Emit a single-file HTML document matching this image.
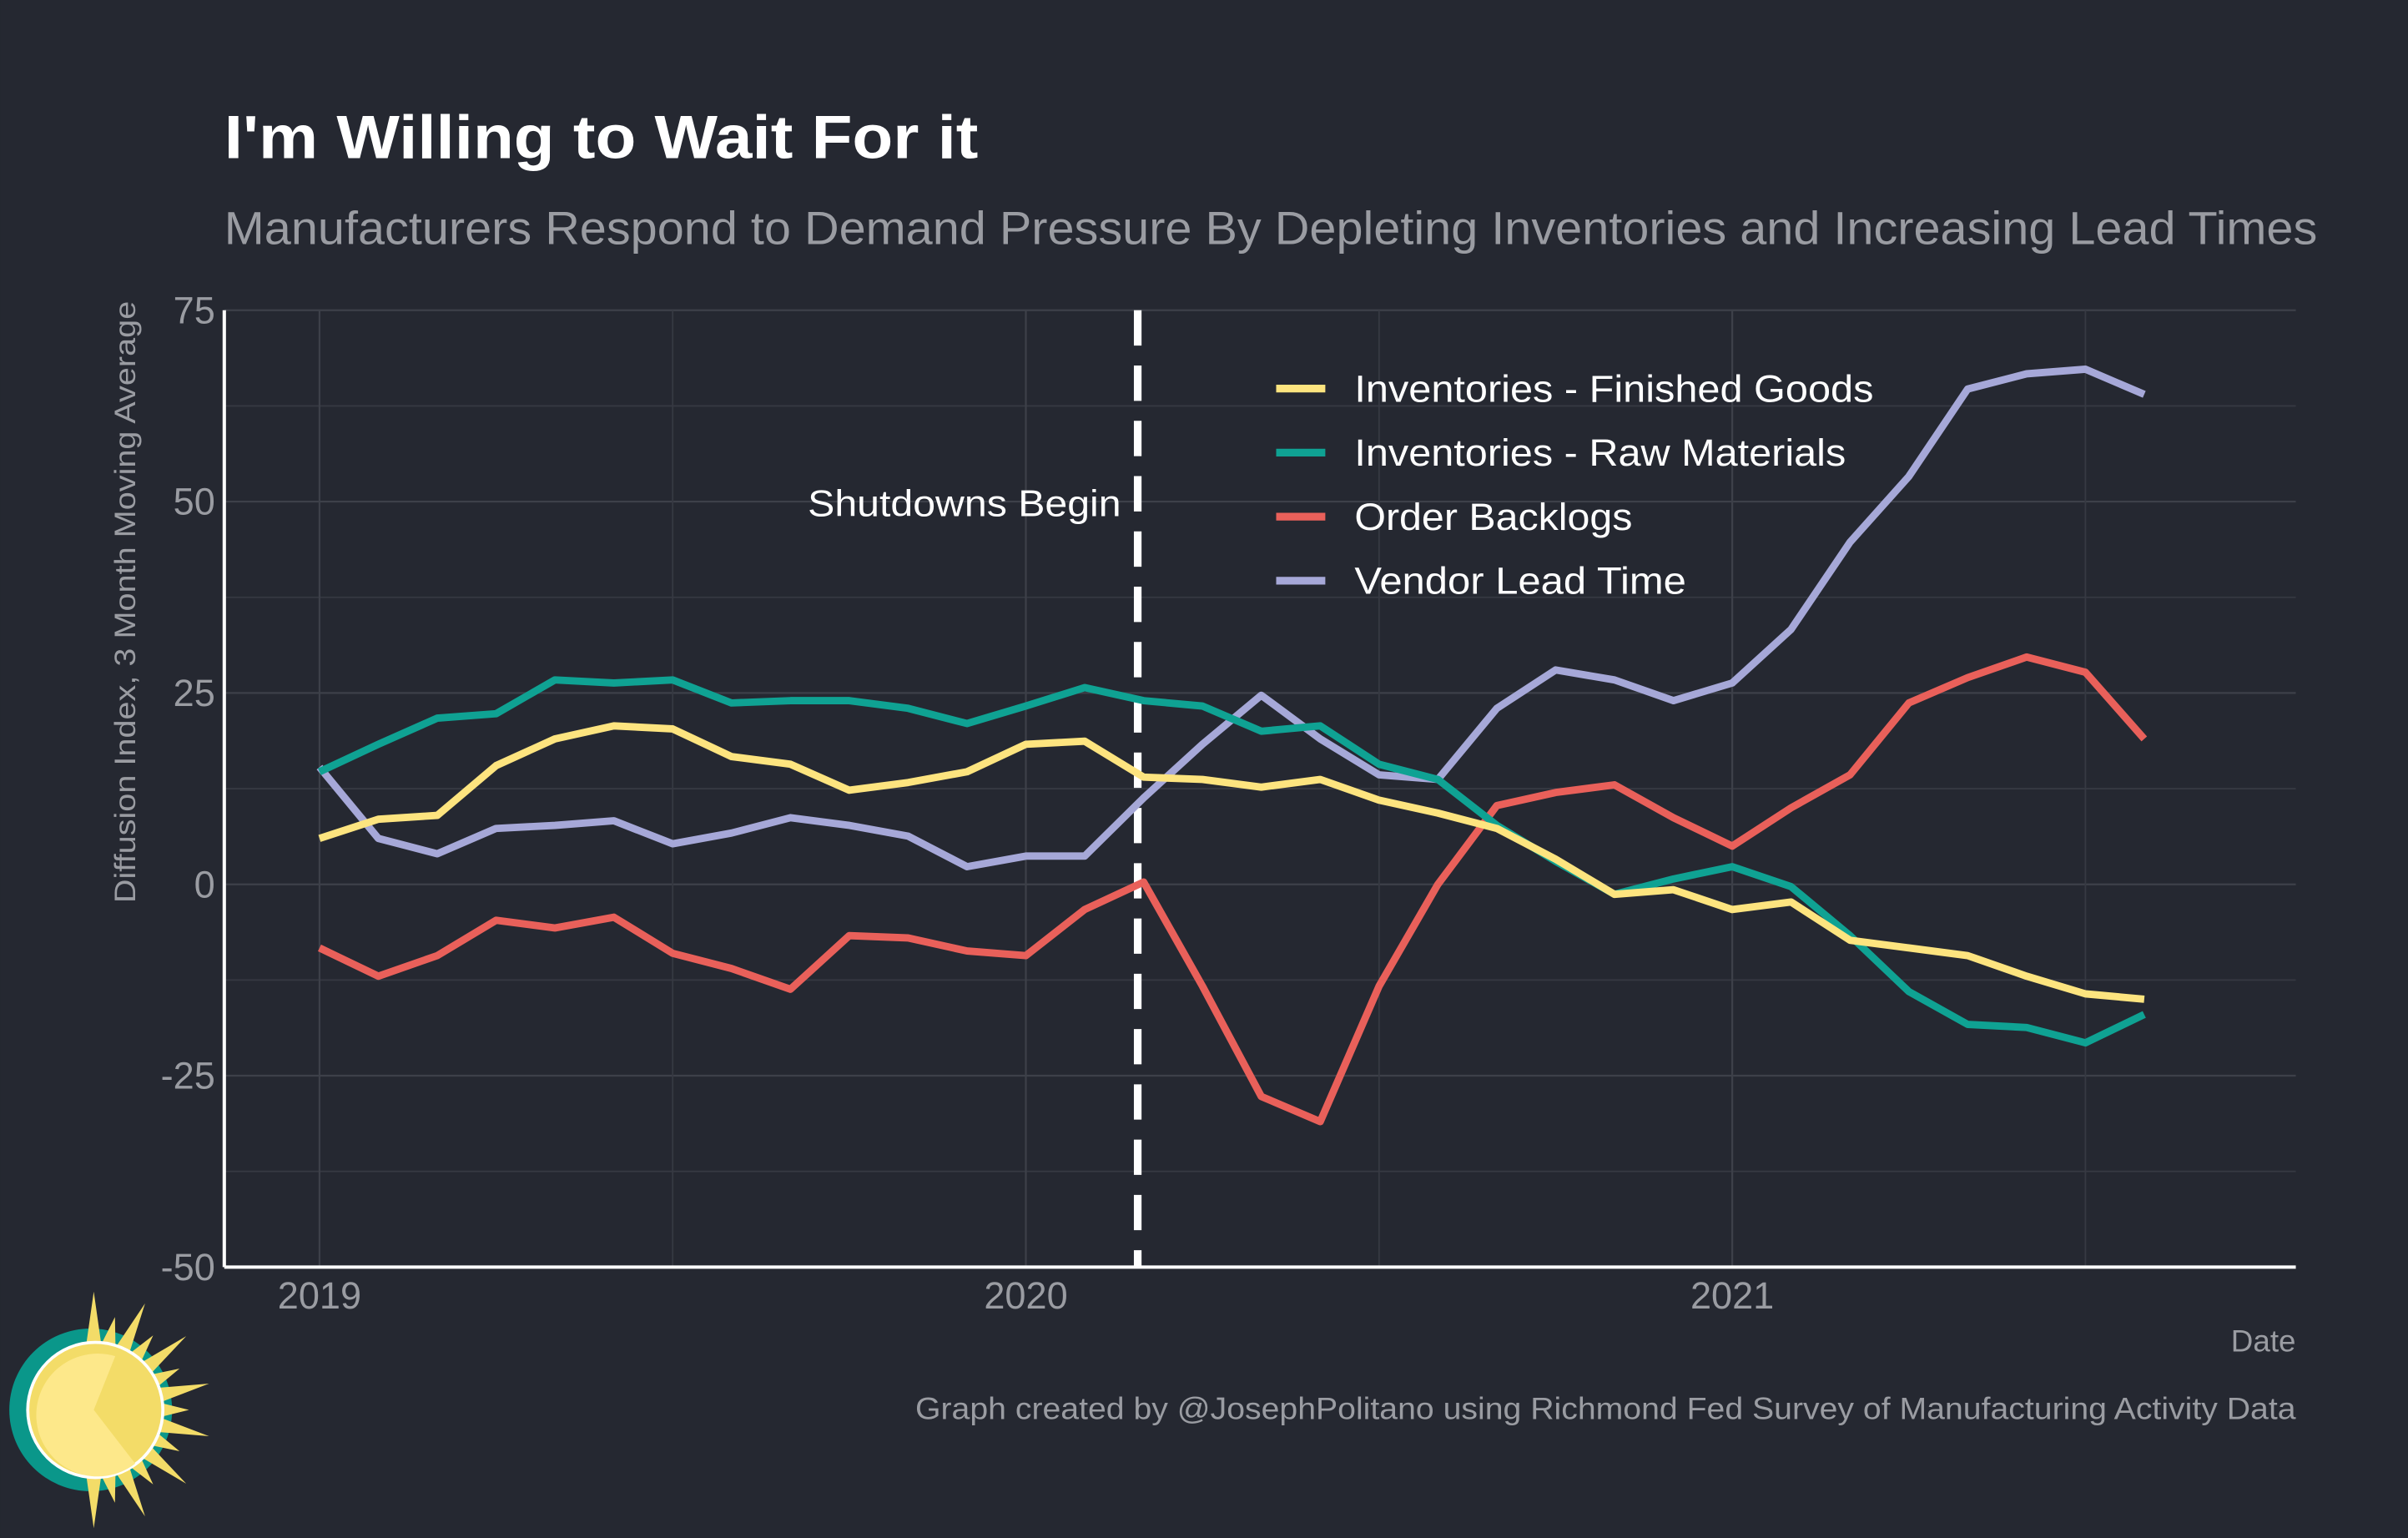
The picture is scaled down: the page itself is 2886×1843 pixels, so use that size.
<!DOCTYPE html>
<html><head><meta charset="utf-8"><style>
html,body{margin:0;padding:0;background:#252831;}
svg{display:block;}
text{font-family:"Liberation Sans",Arial,sans-serif;}
</style></head><body>
<svg id="chart" width="2886" height="1843" viewBox="0 0 1568 1001.4" xmlns="http://www.w3.org/2000/svg">
<rect x="0" y="0" width="1568" height="1002" fill="#252831"/>
<text x="146" y="103" font-size="40" font-weight="bold" fill="#ffffff" textLength="491" lengthAdjust="spacingAndGlyphs">I'm Willing to Wait For it</text>
<text x="146" y="159" font-size="30" fill="#9a9ca2" textLength="1363" lengthAdjust="spacingAndGlyphs">Manufacturers Respond to Demand Pressure By Depleting Inventories and Increasing Lead Times</text>
<g id="grid"></g>
<g id="axes"></g>
<g id="series"></g>
<g id="legend"></g>
<text transform="translate(88,392) rotate(-90)" text-anchor="middle" font-size="19" fill="#9a9ca2" textLength="392" lengthAdjust="spacingAndGlyphs">Diffusion Index, 3 Month Moving Average</text>
<text x="1495" y="880" text-anchor="end" font-size="20" fill="#9a9ca2">Date</text>
<text x="596" y="924" font-size="20" fill="#9a9ca2" textLength="899" lengthAdjust="spacingAndGlyphs">Graph created by @JosephPolitano using Richmond Fed Survey of Manufacturing Activity Data</text>
<g id="logo"></g>
</svg>
<script>
const categories = ["2019-01","2019-02","2019-03","2019-04","2019-05","2019-06","2019-07","2019-08","2019-09","2019-10","2019-11","2019-12","2020-01","2020-02","2020-03","2020-04","2020-05","2020-06","2020-07","2020-08","2020-09","2020-10","2020-11","2020-12","2021-01","2021-02","2021-03","2021-04","2021-05","2021-06","2021-07","2021-08"];
const finishedGoods = [6,8.5,9,15.5,19,20.7,20.3,16.7,15.7,12.3,13.3,14.7,18.3,18.7,14,13.7,12.7,13.7,11,9.3,7.3,3.3,-1.3,-0.7,-3.3,-2.3,-7.3,-8.3,-9.3,-12,-14.3,-15];
const rawMaterials = [14.7,18.3,21.7,22.3,26.7,26.3,26.7,23.7,24,24,23,21,23.3,25.7,24,23.3,20,20.7,15.7,13.7,7.7,3,-1.3,0.7,2.3,-0.3,-6.7,-14,-18.3,-18.7,-20.7,-17];
const orderBacklogs = [-8.3,-12,-9.3,-4.7,-5.7,-4.3,-9,-11,-13.7,-6.7,-7,-8.7,-9.3,-3.3,0.3,-13.3,-27.7,-31,-13.3,0,10.3,12,13,8.7,5,10,14.3,23.7,27,29.7,27.7,19];
const vendorLeadTime = [15.3,6,4,7.3,7.7,8.3,5.3,6.7,8.7,7.7,6.3,2.3,3.7,3.7,11.3,18.3,24.7,19,14.3,13.7,23,28,26.7,24,26.3,33.3,44.7,53.3,64.7,66.7,67.3,64];
const yTicks = [-50,-25,0,25,50,75];
const xTickLabels = ["2019","2020","2021"];
const seriesNames = ["Inventories - Finished Goods","Inventories - Raw Materials","Order Backlogs","Vendor Lead Time"];
const shutdownDate = "2020-03";

const NS="http://www.w3.org/2000/svg";
const L=146,R=1495,T=202,B=825;
function monthIndex(s){const [y,m]=s.split("-").map(Number);return (y-2019)*12+(m-1);}
function xScale(i){return 208+i*(1128-208)/24;}
function yScale(v){return B-(v+50)/125*(B-T);}
function el(tag,attrs,parent){const e=document.createElementNS(NS,tag);for(const k in attrs)e.setAttribute(k,attrs[k]);parent.appendChild(e);return e;}
const grid=document.getElementById("grid"),axes=document.getElementById("axes"),series=document.getElementById("series"),legend=document.getElementById("legend");
for(let i=0;i<yTicks.length-1;i++){const v=(yTicks[i]+yTicks[i+1])/2;
const g=el("line",{x1:L,x2:R,y1:yScale(v),y2:yScale(v),stroke:"#363942","stroke-width":1},grid);

}
for(const v of yTicks){
const g=el("line",{x1:L,x2:R,y1:yScale(v),y2:yScale(v),stroke:"#3d4049","stroke-width":1.2},grid);


const t=el("text",{x:L-6,y:yScale(v)+8.5,"text-anchor":"end","font-size":24.5,fill:"#9a9ca2"},axes);t.textContent=v;

}
for(let k=0;k<6;k++){const i=k*6;const x=xScale(i);
const g=el("line",{x1:x,x2:x,y1:T,y2:B,stroke:k%2==0?"#3d4049":"#363942","stroke-width":k%2==0?1.2:1},grid);

}
xTickLabels.forEach((lab,k)=>{const t=el("text",{x:xScale(k*12),y:852,"text-anchor":"middle","font-size":24.5,fill:"#9a9ca2"},axes);t.textContent=lab;

});
const ya=el("line",{x1:L,x2:L,y1:T,y2:B,stroke:"#ffffff","stroke-width":2.2},axes);


const xa=el("line",{x1:L,x2:R,y1:B,y2:B,stroke:"#ffffff","stroke-width":2.2},axes);


const colors=["#fde47f","#0fa293","#e9605a","#a6a8d8"];
const data=[finishedGoods,rawMaterials,orderBacklogs,vendorLeadTime];
const names=["line-finished-goods","line-raw-materials","line-order-backlogs","line-vendor-lead-time"];
const legendLens=[338,320,181,216];
const sx=xScale(monthIndex(shutdownDate)-0.1);
const sl=el("line",{x1:sx,x2:sx,y1:T,y2:B,stroke:"#ffffff","stroke-width":5,"stroke-dasharray":"23 13"},series);


const st=el("text",{x:526,y:336,"font-size":24,fill:"#ffffff",textLength:204,lengthAdjust:"spacingAndGlyphs"},series);st.textContent="Shutdowns Begin";


[3,2,1,0].forEach(s=>{
const pts=data[s].map((v,i)=>xScale(monthIndex(categories[i])).toFixed(1)+","+yScale(v).toFixed(1)).join(" ");
const p=el("polyline",{points:pts,fill:"none",stroke:colors[s],"stroke-width":4.8,"stroke-linejoin":"round"},series);

});
seriesNames.forEach((n,s)=>{const y=253+s*41.7;
const g=el("g",{},legend);


el("line",{x1:831,x2:863,y1:y,y2:y,stroke:colors[s],"stroke-width":5},g);
const t=el("text",{x:882,y:y+8.5,"font-size":24.5,fill:"#ffffff",textLength:legendLens[s],lengthAdjust:"spacingAndGlyphs"},g);t.textContent=n;});
const logo=document.getElementById("logo");const cx=61,cy=918;
el("circle",{cx:cx-2,cy:cy,r:53,fill:"#0a978a"},logo);
for(let k=0;k<15;k++){const a=-Math.PI/2+k*Math.PI/14;const len=(k%2==0)?77:62;const w=0.12;
const p=[[cx+len*Math.cos(a),cy+len*Math.sin(a)],[cx+42*Math.cos(a-w),cy+42*Math.sin(a-w)],[cx+42*Math.cos(a+w),cy+42*Math.sin(a+w)]];
el("polygon",{points:p.map(q=>q.join(",")).join(" "),fill:"#f3dc68"},logo);}
el("circle",{cx:cx+1,cy:cy,r:45,fill:"#ffffff"},logo);
el("circle",{cx:cx+1,cy:cy,r:43,fill:"#f3dc68"},logo);
el("path",{d:`M${cx},${cy} L${cx+27},${cy+35} A40 40 0 1 1 ${cx+14},${cy-35} Z`,fill:"#fde88a"},logo);
</script>
</body></html>
